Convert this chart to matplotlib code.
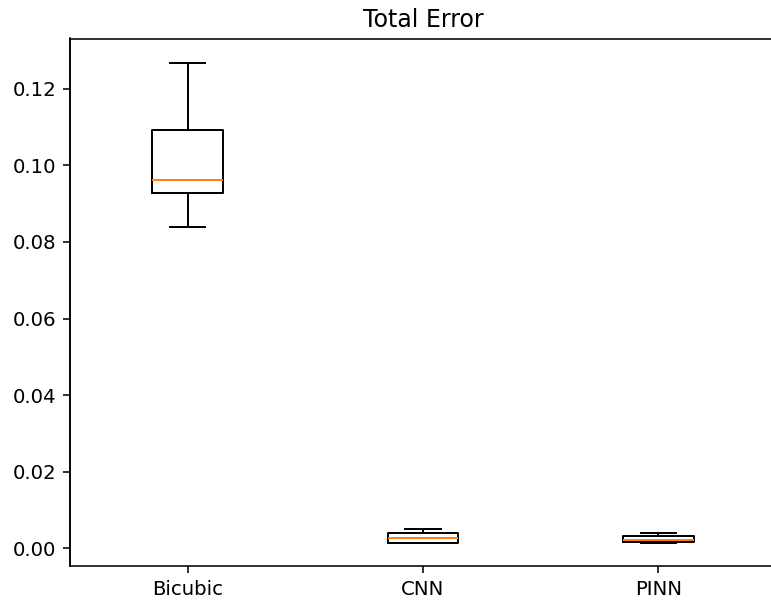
import matplotlib
matplotlib.use("Agg")
import matplotlib.pyplot as plt

labels = ["Bicubic", "CNN", "PINN"]
whislo = [0.0838, 0.0013, 0.0014]
q1 = [0.0927, 0.0015, 0.0016]
med = [0.0962, 0.0027, 0.0023]
q3 = [0.1092, 0.0039, 0.0032]
whishi = [0.1267, 0.0051, 0.0039]

stats = []
for i in range(len(labels)):
    stats.append(dict(label=labels[i], whislo=whislo[i], q1=q1[i], med=med[i],
                      q3=q3[i], whishi=whishi[i], fliers=[]))

DPI = 142
fig = plt.figure(figsize=(771 / DPI, 606 / DPI), dpi=DPI)
# axes continues past the right edge of the image (cropped in the reference)
ax = fig.add_axes([70/771, 1-566/606, (771-70)/771, (566-38.5)/606])
ax.bxp(stats)
ax.set_xlim(0.5, 0.5 + 3 * (771 - 70) / (776 - 70))
ax.spines['right'].set_visible(False)
ax.plot([0, 0], [0, 1], transform=ax.transAxes, color="black",
        lw=0.8, clip_on=False, zorder=10, solid_capstyle="projecting")
ax.set_ylim(-0.0046, 0.1331)
ax.set_title("Total Error", x=(776 - 70) / 2 / (771 - 70))
fig.savefig("out.png", dpi=DPI)
